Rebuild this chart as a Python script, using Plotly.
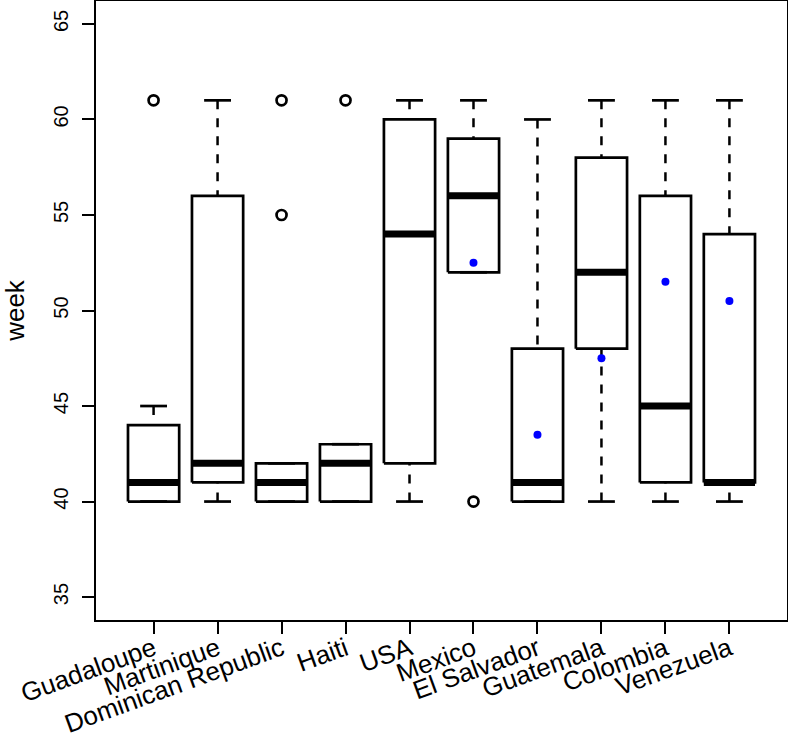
import plotly.graph_objects as go

countries = ["Guadaloupe", "Martinique", "Dominican Republic", "Haiti", "USA",
             "Mexico", "El Salvador", "Guatemala", "Colombia", "Venezuela"]
q1 = [40, 41, 40, 40, 42, 52, 40, 48, 41, 41]
median = [41, 42, 41, 42, 54, 56, 41, 52, 45, 41]
q3 = [44, 56, 42, 43, 60, 59, 48, 58, 56, 54]
lower_whisker = [40, 40, 40, 40, 40, 52, 40, 40, 40, 40]
upper_whisker = [45, 61, 42, 43, 61, 61, 60, 61, 61, 61]
outliers = [[61], [], [55, 61], [61], [], [40], [], [], [], []]
means = [None, None, None, None, None, 52.5, 43.5, 47.5, 51.5, 50.5]
y_ticks = [35, 40, 45, 50, 55, 60, 65]

positions = list(range(1, len(countries) + 1))
half_box = 0.4
half_cap = 0.21

wx, wy = [], []
cx, cy = [], []
bx, by = [], []
mx, my = [], []
ox, oy = [], []
for p, a, b, c, lo, hi, outs in zip(positions, q1, median, q3,
                                     lower_whisker, upper_whisker, outliers):
    # whiskers drawn from extreme towards the box
    wx += [p, p, None, p, p, None]
    wy += [hi, c, None, lo, a, None]
    cx += [p - half_cap, p + half_cap, None, p - half_cap, p + half_cap, None]
    cy += [hi, hi, None, lo, lo, None]
    bx += [p - half_box, p + half_box, p + half_box, p - half_box, p - half_box, None]
    by += [a, a, c, c, a, None]
    mx += [p - half_box, p + half_box, None]
    my += [b, b, None]
    for o in outs:
        ox.append(p)
        oy.append(o)

fig = go.Figure()
fig.add_trace(go.Scatter(x=wx, y=wy, mode="lines",
                         line=dict(color="black", width=2.5, dash="9px,9px"),
                         hoverinfo="skip", showlegend=False))
fig.add_trace(go.Scatter(x=cx, y=cy, mode="lines",
                         line=dict(color="black", width=2.7),
                         hoverinfo="skip", showlegend=False))
fig.add_trace(go.Scatter(x=bx, y=by, mode="lines",
                         line=dict(color="black", width=2.7),
                         hoverinfo="skip", showlegend=False))
fig.add_trace(go.Scatter(x=mx, y=my, mode="lines",
                         line=dict(color="black", width=7),
                         hoverinfo="skip", showlegend=False))
fig.add_trace(go.Scatter(x=ox, y=oy, mode="markers",
                         marker=dict(symbol="circle-open", size=10, color="black",
                                     line=dict(width=2.7, color="black")),
                         showlegend=False))
fig.add_trace(go.Scatter(x=positions, y=means, mode="markers",
                         marker=dict(symbol="circle", size=8, color="#0000ff"),
                         showlegend=False))

fig.update_layout(
    width=788, height=738,
    margin=dict(l=96, r=1, t=1, b=118),
    paper_bgcolor="white", plot_bgcolor="white",
    font=dict(family="Liberation Sans, Arial, sans-serif", color="black"),
    showlegend=False,
)
fig.update_xaxes(
    range=[0.1, 10.9], tickmode="array", tickvals=positions, ticktext=countries,
    tickangle=-20, tickfont=dict(size=26), ticks="outside", ticklen=12,
    tickwidth=1.5, tickcolor="black", showline=True, mirror=True,
    linecolor="black", linewidth=1.5, showgrid=False, zeroline=False,
    automargin=False, ticklabelstandoff=-10,
)
fig.update_yaxes(
    range=[33.8, 66.2], tickmode="array", tickvals=y_ticks,
    tickangle=-90, tickfont=dict(size=20), ticks="outside", ticklen=12,
    tickwidth=1.5, tickcolor="black", showline=True, mirror=True,
    linecolor="black", linewidth=1.5, showgrid=False, zeroline=False,
    ticklabelstandoff=6, automargin=False,
    title=dict(text="week", font=dict(size=26), standoff=20),
)

fig.write_html("out.html", config={"displayModeBar": False},
               post_script="document.body.style.margin='0px';document.body.style.padding='0px';")
